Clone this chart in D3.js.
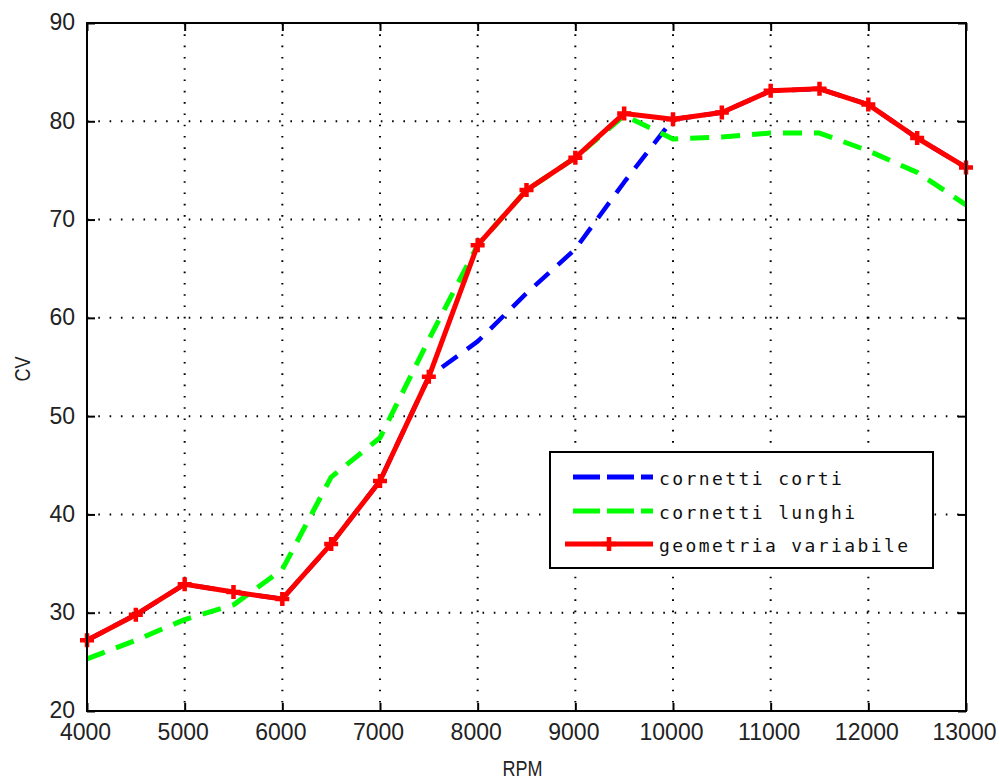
<!DOCTYPE html>
<html>
<head>
<meta charset="utf-8">
<script src="https://d3js.org/d3.v7.min.js"></script>
<style>
  html, body { margin: 0; padding: 0; background: #fff; }
  svg { display: block; }
</style>
</head>
<body>
<svg id="chart" width="1000" height="780"></svg>
<script>
// ---- data ----
const rpm = [4000, 4500, 5000, 5500, 6000, 6500, 7000, 7500, 8000, 8500, 9000, 9500, 10000, 10500, 11000, 11500, 12000, 12500, 13000];
const cornettiCorti = [27.2, 29.8, 32.9, 32.1, 31.4, 37.0, 43.4, 54.0, 57.6, 62.5, 67.0, 73.8, 80.2, 80.9, 83.1, 83.3, 81.7, 78.3, 75.3];
const cornettiLunghi = [25.3, 27.2, 29.3, 30.8, 34.4, 43.8, 47.8, 57.8, 67.4, 73.0, 76.3, 80.6, 78.2, 78.4, 78.8, 78.8, 77.0, 74.8, 71.5];
const geometriaVariabile = [27.2, 29.8, 32.9, 32.1, 31.4, 37.0, 43.4, 54.0, 67.4, 73.0, 76.3, 80.8, 80.2, 80.9, 83.1, 83.3, 81.7, 78.3, 75.3];
const xTicks = [4000, 5000, 6000, 7000, 8000, 9000, 10000, 11000, 12000, 13000];
const yTicks = [20, 30, 40, 50, 60, 70, 80, 90];
const seriesNames = ["cornetti corti", "cornetti lunghi", "geometria variabile"];
const seriesColors = ["#0000ff", "#00ff00", "#ff0000"];
const xLabel = "RPM";
const yLabel = "CV";

// ---- layout ----
const L = 87, R = 966, T = 23, B = 711;
const svg = d3.select("#chart");
const x = d3.scaleLinear().domain([4000, 13000]).range([L, R]);
const y = d3.scaleLinear().domain([20, 90]).range([B, T]);

// grid
const grid = svg.append("g");
grid.selectAll("line.gx").data(xTicks.slice(1, -1)).join("line")
  .attr("x1", d => x(d)).attr("x2", d => x(d)).attr("y1", T).attr("y2", B)
  .attr("stroke", "#000").attr("stroke-width", 2).attr("stroke-dasharray", "1.6,9.7");
grid.selectAll("line.gy").data(yTicks.slice(1, -1)).join("line")
  .attr("y1", d => y(d)).attr("y2", d => y(d)).attr("x1", L).attr("x2", R)
  .attr("stroke", "#000").attr("stroke-width", 2).attr("stroke-dasharray", "1.6,9.7");

// axes with inward ticks on all sides
const tickLen = 8;
const fontTick = "'Liberation Sans', Arial, sans-serif";
const axB = svg.append("g").attr("transform", `translate(0,${B})`)
  .call(d3.axisBottom(x).tickValues(xTicks).tickSizeInner(-tickLen).tickSizeOuter(0).tickPadding(13).tickFormat(d3.format("d")));
const axT = svg.append("g").attr("transform", `translate(0,${T})`)
  .call(d3.axisTop(x).tickValues(xTicks).tickSizeInner(-tickLen).tickSizeOuter(0).tickFormat(""));
const axL = svg.append("g").attr("transform", `translate(${L},0)`)
  .call(d3.axisLeft(y).tickValues(yTicks).tickSizeInner(-tickLen).tickSizeOuter(0).tickPadding(12).tickFormat(d3.format("d")));
const axR = svg.append("g").attr("transform", `translate(${R},0)`)
  .call(d3.axisRight(y).tickValues(yTicks).tickSizeInner(-tickLen).tickSizeOuter(0).tickFormat(""));
[axB, axT, axL, axR].forEach(a => {
  a.select(".domain").remove();
  a.selectAll(".tick line").attr("stroke", "#000").attr("stroke-width", 2);
  a.selectAll("text").attr("font-family", fontTick).attr("font-size", 23).attr("fill", "#222");
});
axB.selectAll("text").attr("dy", "0.71em").attr("dx", -2);
axL.selectAll("text").attr("dy", "0.30em");

// series lines
const line = d3.line().x((d, i) => x(rpm[i])).y(d => y(d));
const plot = svg.append("g");
plot.append("path").datum(cornettiCorti).attr("d", line)
  .attr("fill", "none").attr("stroke", seriesColors[0]).attr("stroke-width", 4.5)
  .attr("stroke-dasharray", "19,12").attr("stroke-linejoin", "round");
plot.append("path").datum(cornettiLunghi).attr("d", line)
  .attr("fill", "none").attr("stroke", seriesColors[1]).attr("stroke-width", 5)
  .attr("stroke-dasharray", "19,12").attr("stroke-linejoin", "round");
plot.append("path").datum(geometriaVariabile).attr("d", line)
  .attr("fill", "none").attr("stroke", seriesColors[2]).attr("stroke-width", 5)
  .attr("stroke-linejoin", "round");
const ms = 7;
const plusPath = (cx, cy) => `M${cx - ms},${cy}H${cx + ms}M${cx},${cy - ms}V${cy + ms}`;
plot.selectAll("path.mk").data(geometriaVariabile).join("path")
  .attr("class", "mk")
  .attr("d", (d, i) => plusPath(x(rpm[i]), y(d)))
  .attr("stroke", seriesColors[2]).attr("stroke-width", 4.5).attr("fill", "none");

// box
svg.append("rect").attr("x", L).attr("y", T).attr("width", R - L).attr("height", B - T)
  .attr("fill", "none").attr("stroke", "#000").attr("stroke-width", 2);

// axis labels
svg.append("text").attr("x", (L + R) / 2 - 4).attr("y", 776)
  .attr("text-anchor", "middle").attr("font-family", fontTick).attr("font-size", 22)
  .attr("textLength", 40).attr("lengthAdjust", "spacingAndGlyphs").attr("fill", "#222").text(xLabel);
svg.append("text").attr("transform", `translate(30,${(T + B) / 2 + 2}) rotate(-90)`)
  .attr("text-anchor", "middle").attr("font-family", fontTick).attr("font-size", 22)
  .attr("textLength", 25).attr("lengthAdjust", "spacingAndGlyphs").attr("fill", "#222").text(yLabel);

// legend
const lg = svg.append("g");
lg.append("rect").attr("x", 550).attr("y", 452).attr("width", 383).attr("height", 116)
  .attr("fill", "#fff").attr("stroke", "#000").attr("stroke-width", 2);
const rowsY = [477, 511, 544];
const dashes = ["27,7", "27,7", null];
seriesNames.forEach((name, i) => {
  const yy = rowsY[i];
  const ln = lg.append("line").attr("x1", i === 2 ? 565 : 573).attr("x2", 653)
    .attr("y1", yy).attr("y2", yy).attr("stroke", seriesColors[i]).attr("stroke-width", 5);
  if (dashes[i]) ln.attr("stroke-dasharray", dashes[i]);
  if (i === 2) lg.append("path").attr("d", plusPath(609, yy)).attr("stroke", seriesColors[2]).attr("stroke-width", 4.5);
  lg.append("text").attr("x", 659).attr("y", yy + 8)
    .attr("font-family", "'DejaVu Sans Mono', monospace").attr("font-size", 18)
    .attr("letter-spacing", 2.4).attr("fill", "#111").text(name);
});
</script>
</body>
</html>
